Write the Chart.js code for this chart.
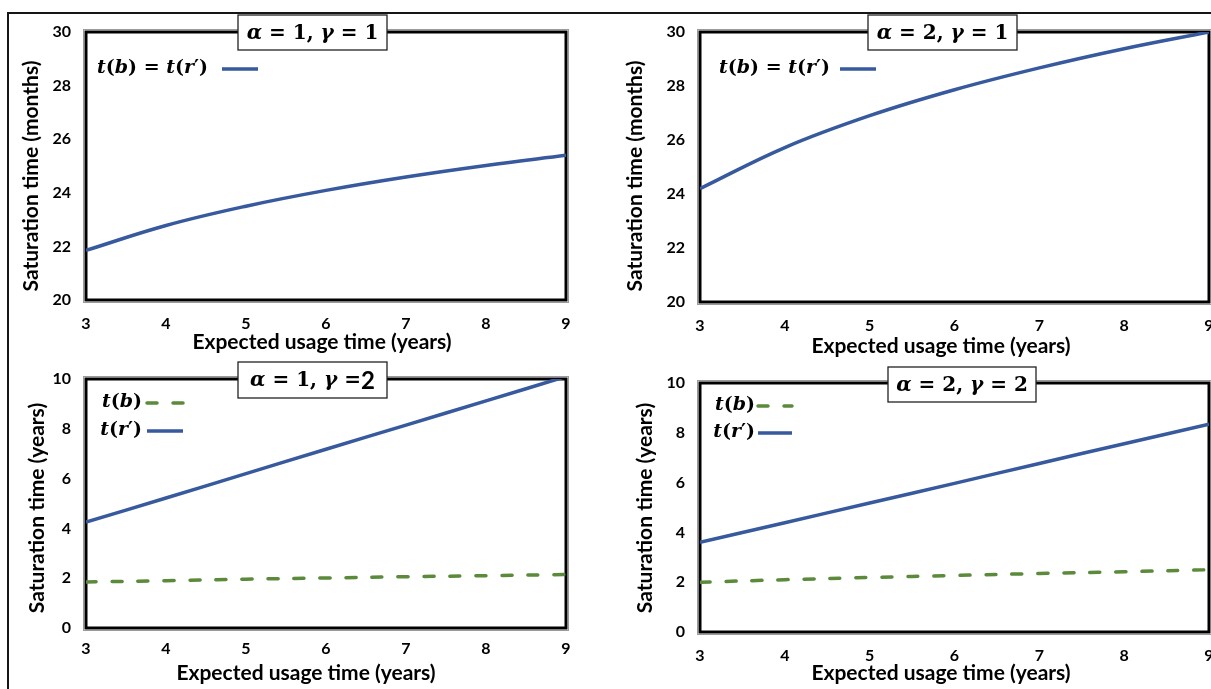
<!DOCTYPE html>
<html>
<head>
<meta charset="utf-8">
<script src="https://cdn.jsdelivr.net/npm/chart.js@4.4.1/dist/chart.umd.min.js"></script>
<style>
  html, body { margin: 0; padding: 0; background: #fff; overflow: hidden; width: 1211px; height: 689px; }
  #frame { position: absolute; left: 7px; top: 12px; width: 1300px; height: 800px;
           border-left: 2px solid #161616; border-top: 2px solid #161616; }
  canvas { position: absolute; left: 0; top: 0; }
</style>
</head>
<body>
<div id="frame"></div>
<canvas id="p11" width="1260" height="689"></canvas>
<canvas id="p21" width="1260" height="689"></canvas>
<canvas id="p12" width="1260" height="689"></canvas>
<canvas id="p22" width="1260" height="689"></canvas>
<script>
// ---- data ----
const usageYears   = [3, 4, 5, 6, 7, 8, 9];           // expected usage time (years)
const xTickValues  = [3, 4, 5, 6, 7, 8, 9];
const monthTicks   = [20, 22, 24, 26, 28, 30];
const yearTicks    = [0, 2, 4, 6, 8, 10];

// alpha = 1, gamma = 1 : t(b) = t(r') in months
const satA1G1 = [21.85, 22.78, 23.50, 24.09, 24.59, 25.02, 25.40];
// alpha = 2, gamma = 1 : t(b) = t(r') in months
const satA2G1 = [24.20, 25.72, 26.90, 27.86, 28.67, 29.38, 30.00];
// alpha = 1, gamma = 2 : years
const tbA1G2  = [1.85, 1.90, 1.96, 2.01, 2.06, 2.10, 2.15];
const trA1G2  = [4.25, 5.22, 6.20, 7.18, 8.15, 9.12, 10.10];
// alpha = 2, gamma = 2 : years
const tbA2G2  = [2.00, 2.10, 2.19, 2.27, 2.35, 2.42, 2.50];
const trA2G2  = [3.60, 4.39, 5.18, 5.97, 6.77, 7.56, 8.35];

// ---- styling ----
const BLUE  = '#37599d';
const GREEN = '#5a8a3a';
const SANS  = 'Lato, "Open Sans", sans-serif';
const SERIF = '"DejaVu Serif", serif';

const toPts = (ys) => usageYears.map((x, i) => ({ x, y: ys[i] }));

// Math-style text made of italic/upright runs
const T  = (t) => ({ t, it: true });
const U  = (t) => ({ t, it: false });
const S  = (t) => ({ t, sans: true });

function runFont(seg, size) {
  if (seg.sans) return `bold ${size + 4}px ${SANS}`;
  return `${seg.it ? 'italic ' : ''}bold ${size}px ${SERIF}`;
}
function drawRuns(ctx, segs, x, y, align, size) {
  let total = 0;
  const ws = segs.map(s => { ctx.font = runFont(s, size); const w = ctx.measureText(s.t).width; total += w; return w; });
  let cx = align === 'right' ? x - total : align === 'center' ? x - total / 2 : x;
  ctx.textBaseline = 'middle';
  ctx.textAlign = 'left';
  ctx.fillStyle = '#000';
  segs.forEach((s, i) => { ctx.font = runFont(s, size); ctx.fillText(s.t, cx, y); cx += ws[i]; });
  return total;
}

// Plot frame, caption box, legend and axis titles for each panel
const decor = {
  id: 'decor',
  beforeDatasetsDraw(chart, args, o) {
    const { ctx, chartArea: a } = chart;
    ctx.save();
    ctx.strokeStyle = '#9a9a9a';
    ctx.lineWidth = 1;
    ctx.strokeRect(a.left - 2.5, a.top - 2.5, a.right - a.left + 5, a.bottom - a.top + 5);
    ctx.strokeStyle = '#000';
    ctx.lineWidth = 3;
    ctx.strokeRect(a.left, a.top, a.right - a.left, a.bottom - a.top);
    ctx.restore();
  },
  afterDraw(chart, args, o) {
    const { ctx } = chart;
    ctx.save();
    // caption box
    const b = o.box;
    ctx.fillStyle = '#fff';
    ctx.fillRect(b.x, b.y, b.w, b.h);
    ctx.strokeStyle = '#222';
    ctx.lineWidth = 1.3;
    ctx.strokeRect(b.x, b.y, b.w, b.h);
    drawRuns(ctx, o.caption, b.x + b.w / 2, b.y + b.h / 2 + 1, 'center', 20);
    // legend: text right-aligned, then line sample
    o.legend.forEach(item => {
      const ds = chart.data.datasets[item.ds];
      drawRuns(ctx, item.runs, item.x, item.y, 'right', 19);
      ctx.strokeStyle = ds.borderColor;
      ctx.lineWidth = ds.borderWidth;
      ctx.setLineDash(ds.borderDash || []);
      ctx.lineCap = ds.borderDash ? 'round' : 'butt';
      ctx.beginPath();
      ctx.moveTo(item.x + item.gap, item.y + 1);
      ctx.lineTo(item.x + item.gap + item.len, item.y + 1);
      ctx.stroke();
      ctx.setLineDash([]);
    });
    // axis titles
    ctx.fillStyle = '#000';
    ctx.font = `bold 21px ${SANS}`;
    ctx.textAlign = 'center';
    ctx.textBaseline = 'middle';
    ctx.fillText(o.xTitle.text, o.xTitle.x, o.xTitle.y);
    ctx.translate(o.yTitle.x, o.yTitle.y);
    ctx.rotate(-Math.PI / 2);
    ctx.fillText(o.yTitle.text, 0, 0);
    ctx.restore();
  }
};

const CW = 1260, CH = 689, YW = 60, XH = 40;

function makePanel(cfg) {
  const a = cfg.area;
  new Chart(document.getElementById(cfg.id), {
    type: 'line',
    data: { datasets: cfg.datasets },
    plugins: [decor],
    options: {
      responsive: false,
      animation: false,
      devicePixelRatio: 1,
      events: [],
      layout: { padding: { left: a.l - YW, top: a.t, right: CW - a.r, bottom: CH - a.b - XH } },
      elements: { point: { radius: 0 }, line: { tension: 0.4 } },
      plugins: {
        legend: { display: false },
        tooltip: { enabled: false },
        decor: cfg.decor
      },
      scales: {
        x: {
          type: 'linear', min: 3, max: 9,
          afterBuildTicks: s => { s.ticks = xTickValues.map(v => ({ value: v })); },
          afterFit: s => { s.height = XH; },
          grid: { display: false, drawTicks: false },
          border: { display: false },
          ticks: { padding: cfg.xPad, color: '#000', font: { family: SANS, size: 16, weight: 'bold' } }
        },
        y: {
          type: 'linear', min: cfg.yTicks[0], max: cfg.yTicks[cfg.yTicks.length - 1],
          afterBuildTicks: s => { s.ticks = cfg.yTicks.map(v => ({ value: v })); },
          afterFit: s => { s.width = YW; },
          grid: { display: false, drawTicks: false },
          border: { display: false },
          ticks: { padding: 15, color: '#000', font: { family: SANS, size: 16, weight: 'bold' } }
        }
      }
    }
  });
}

const XLAB = 'Expected usage time (years)';

makePanel({
  id: 'p11', area: { l: 86, t: 32, r: 566, b: 300 }, yTicks: monthTicks, xPad: 14,
  datasets: [{ label: "t(b) = t(r')", data: toPts(satA1G1), borderColor: BLUE, borderWidth: 3.5 }],
  decor: {
    box: { x: 238, y: 15, w: 149, h: 35 },
    caption: [T('α'), U(' = 1, '), T('γ'), U(' = 1')],
    legend: [{ ds: 0, x: 208, y: 68, gap: 14, len: 36, runs: [T('t'), U('('), T('b'), U(') = '), T('t'), U('('), T('r'), U('′)')] }],
    xTitle: { text: XLAB, x: 322, y: 342 },
    yTitle: { text: 'Saturation time (months)', x: 31, y: 176 }
  }
});

makePanel({
  id: 'p21', area: { l: 700, t: 32, r: 1209, b: 302 }, yTicks: monthTicks, xPad: 14,
  datasets: [{ label: "t(b) = t(r')", data: toPts(satA2G1), borderColor: BLUE, borderWidth: 3.5 }],
  decor: {
    box: { x: 868, y: 15, w: 149, h: 35 },
    caption: [T('α'), U(' = 2, '), T('γ'), U(' = 1')],
    legend: [{ ds: 0, x: 830, y: 68, gap: 10, len: 36, runs: [T('t'), U('('), T('b'), U(') = '), T('t'), U('('), T('r'), U('′)')] }],
    xTitle: { text: XLAB, x: 941, y: 346 },
    yTitle: { text: 'Saturation time (months)', x: 635, y: 176 }
  }
});

makePanel({
  id: 'p12', area: { l: 86, t: 379, r: 566, b: 628 }, yTicks: yearTicks, xPad: 11,
  datasets: [
    { label: 't(b)', data: toPts(tbA1G2), borderColor: GREEN, borderWidth: 3.5, borderDash: [10, 16], borderCapStyle: 'round' },
    { label: "t(r')", data: toPts(trA1G2), borderColor: BLUE, borderWidth: 3.5 }
  ],
  decor: {
    box: { x: 238, y: 362, w: 149, h: 36 },
    caption: [T('α'), U(' = 1, '), T('γ'), U(' ='), S('2')],
    legend: [
      { ds: 0, x: 142, y: 402, gap: 5, len: 36, runs: [T('t'), U('('), T('b'), U(')')] },
      { ds: 1, x: 142, y: 430, gap: 5, len: 36, runs: [T('t'), U('('), T('r'), U('′)')] }
    ],
    xTitle: { text: XLAB, x: 306, y: 673 },
    yTitle: { text: 'Saturation time (years)', x: 37, y: 508 }
  }
});

makePanel({
  id: 'p22', area: { l: 700, t: 383, r: 1209, b: 632 }, yTicks: yearTicks, xPad: 14,
  datasets: [
    { label: 't(b)', data: toPts(tbA2G2), borderColor: GREEN, borderWidth: 3.5, borderDash: [10, 16], borderCapStyle: 'round' },
    { label: "t(r')", data: toPts(trA2G2), borderColor: BLUE, borderWidth: 3.5 }
  ],
  decor: {
    box: { x: 888, y: 367, w: 148, h: 35 },
    caption: [T('α'), U(' = 2, '), T('γ'), U(' = 2')],
    legend: [
      { ds: 0, x: 755, y: 405, gap: 3, len: 34, runs: [T('t'), U('('), T('b'), U(')')] },
      { ds: 1, x: 755, y: 432, gap: 3, len: 34, runs: [T('t'), U('('), T('r'), U('′)')] }
    ],
    xTitle: { text: XLAB, x: 941, y: 673 },
    yTitle: { text: 'Saturation time (years)', x: 645, y: 508 }
  }
});
</script>
</body>
</html>
